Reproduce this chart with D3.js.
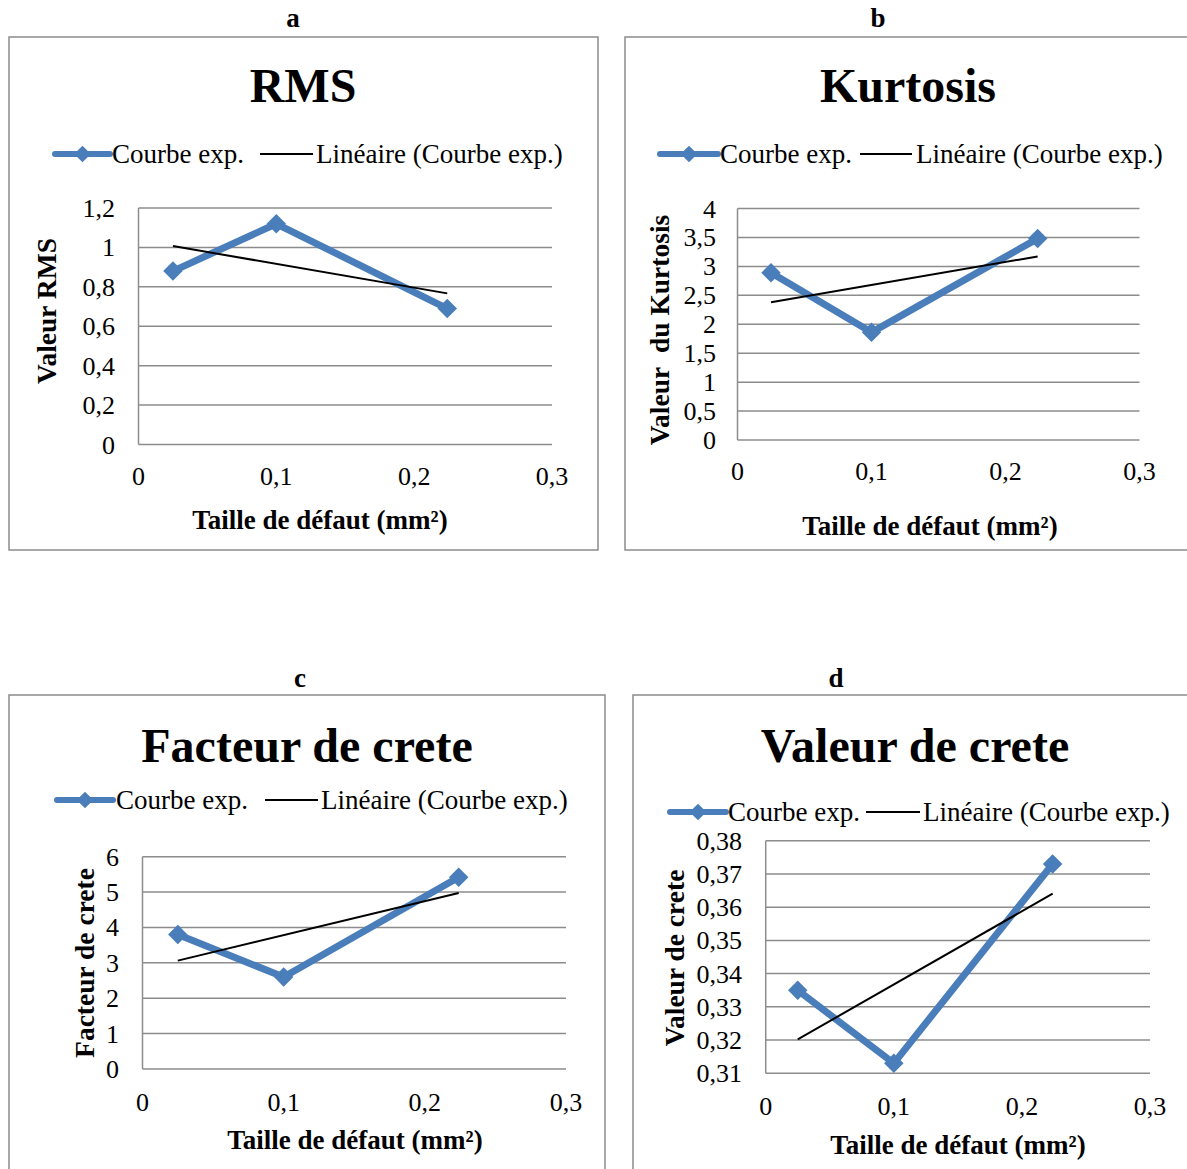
<!DOCTYPE html>
<html><head><meta charset="utf-8">
<script src="https://cdn.jsdelivr.net/npm/d3@7"></script>
<style>
html,body{margin:0;padding:0;background:#fff;}
svg{display:block;font-family:"Liberation Serif","Times New Roman",serif;}
</style></head>
<body>
<svg id="chart" width="1187" height="1169"></svg>
<script>
// ---- data ----
const defectSizes = [0.025, 0.1, 0.224];          // Taille de défaut (mm²)
const rmsValues = [0.88, 1.12, 0.69];
const kurtosisValues = [2.89, 1.86, 3.48];
const facteurCreteValues = [3.8, 2.6, 5.42];
const valeurCreteValues = [0.335, 0.313, 0.373];

const xTicks = [0, 0.1, 0.2, 0.3];
const rmsTicks = [0, 0.2, 0.4, 0.6, 0.8, 1, 1.2];
const kurtosisTicks = [0, 0.5, 1, 1.5, 2, 2.5, 3, 3.5, 4];
const facteurTicks = [0, 1, 2, 3, 4, 5, 6];
const valeurTicks = [0.31, 0.32, 0.33, 0.34, 0.35, 0.36, 0.37, 0.38];

const panelLetters = ["a", "b", "c", "d"];
const panelTitles = ["RMS", "Kurtosis", "Facteur de crete", "Valeur de crete"];
const yTitles = ["Valeur RMS", "Valeur\u00a0 du Kurtosis", "Facteur de crete", "Valeur de crete"];
const xTitle = "Taille de défaut (mm²)";
const legendSeries = "Courbe exp.";
const legendTrend = "Linéaire (Courbe exp.)";

// ---- layout ----
const layouts = [
  {letter:[293,27], box:[9,37,598,550], title:[303,102], leg:{y:154,b0:55,b1:110,t1:112,k0:260,k1:313,t2:316},
   plot:[138.5,552,208,444.5], yLab:115, xLabY:485, xTitle:[320,529], yTitle:[47,311], ydom:[0,1.2], yt:rmsTicks, vals:rmsValues, dec:1},
  {letter:[878,27], box:[625,37,1195,550], title:[908,102], leg:{y:154,b0:660,b1:718,t1:720,k0:860,k1:912,t2:916},
   plot:[737.5,1139.5,208.5,440], yLab:716, xLabY:480, xTitle:[930,535], yTitle:[660,330], ydom:[0,4], yt:kurtosisTicks, vals:kurtosisValues, dec:1},
  {letter:[300,687], box:[9,695,605,1180], title:[307,762], leg:{y:800,b0:57,b1:113,t1:116,k0:265,k1:318,t2:321},
   plot:[142.5,566,856.7,1069], yLab:119, xLabY:1111, xTitle:[355,1149], yTitle:[85,963], ydom:[0,6], yt:facteurTicks, vals:facteurCreteValues, dec:0},
  {letter:[836,687], box:[633,695,1195,1180], title:[915,762], leg:{y:812,b0:670,b1:726,t1:728,k0:866,k1:920,t2:923},
   plot:[765.7,1150,840.7,1073.3], yLab:742, xLabY:1115, xTitle:[958,1154], yTitle:[675,958], ydom:[0.31,0.38], yt:valeurTicks, vals:valeurCreteValues, dec:2}
];

const blue = "#4A7EBB", grid = "#8c8c8c";
const svg = d3.select("#chart");
const fmtX = v => v === 0 ? "0" : d3.format(".1f")(v).replace(".", ",");
const fmtY = (v, dec) => {
  if (v === 0) return "0";
  let s = d3.format("." + dec + "f")(v);
  if (dec === 1 && s.endsWith(".0")) s = s.slice(0, -2);
  return s.replace(".", ",");
};

function linearFit(xs, ys) {
  const mx = d3.mean(xs), my = d3.mean(ys);
  const sxy = d3.sum(xs, (x, i) => (x - mx) * (ys[i] - my));
  const sxx = d3.sum(xs, x => (x - mx) * (x - mx));
  const b = sxy / sxx;
  return x => my + b * (x - mx);
}

layouts.forEach((L, i) => {
  const g = svg.append("g");
  g.append("text").attr("x", L.letter[0]).attr("y", L.letter[1]).attr("text-anchor", "middle")
    .attr("font-size", 27).attr("font-weight", "bold").text(panelLetters[i]);
  g.append("rect").attr("x", L.box[0]).attr("y", L.box[1]).attr("width", L.box[2] - L.box[0]).attr("height", L.box[3] - L.box[1])
    .attr("fill", "#fff").attr("stroke", grid).attr("stroke-width", 1.5);
  g.append("text").attr("x", L.title[0]).attr("y", L.title[1]).attr("text-anchor", "middle")
    .attr("font-size", 48).attr("font-weight", "bold").text(panelTitles[i]);
  // legend
  const lg = L.leg;
  g.append("line").attr("x1", lg.b0).attr("x2", lg.b1).attr("y1", lg.y).attr("y2", lg.y)
    .attr("stroke", blue).attr("stroke-width", 6).attr("stroke-linecap", "round");
  g.append("path").attr("d", d3.symbol(d3.symbolSquare, 140)()).attr("fill", blue)
    .attr("transform", `translate(${(lg.b0 + lg.b1) / 2},${lg.y}) rotate(45)`);
  g.append("text").attr("x", lg.t1).attr("y", lg.y + 9).attr("font-size", 27).text(legendSeries);
  g.append("line").attr("x1", lg.k0).attr("x2", lg.k1).attr("y1", lg.y).attr("y2", lg.y)
    .attr("stroke", "#000").attr("stroke-width", 2);
  g.append("text").attr("x", lg.t2).attr("y", lg.y + 9).attr("font-size", 27).text(legendTrend);

  const [x0, x1, yTop, yBot] = L.plot;
  const x = d3.scaleLinear().domain([0, 0.3]).range([x0, x1]);
  const y = d3.scaleLinear().domain(L.ydom).range([yBot, yTop]);

  g.append("g").selectAll("line").data(L.yt).join("line")
    .attr("x1", x0).attr("x2", x1).attr("y1", d => y(d)).attr("y2", d => y(d))
    .attr("stroke", grid).attr("stroke-width", 1.5);
  g.append("line").attr("x1", x0).attr("x2", x0).attr("y1", yTop).attr("y2", yBot)
    .attr("stroke", grid).attr("stroke-width", 1.5);
  g.append("g").selectAll("text").data(L.yt).join("text")
    .attr("x", L.yLab).attr("y", d => y(d) + 9).attr("text-anchor", "end").attr("font-size", 26)
    .text(d => fmtY(d, L.dec));
  g.append("g").selectAll("text").data(xTicks).join("text")
    .attr("x", d => x(d)).attr("y", L.xLabY).attr("text-anchor", "middle").attr("font-size", 26)
    .text(fmtX);
  g.append("text").attr("x", L.xTitle[0]).attr("y", L.xTitle[1]).attr("text-anchor", "middle")
    .attr("font-size", 27).attr("font-weight", "bold").text(xTitle);
  g.append("text").attr("transform", `translate(${L.yTitle[0] + 9},${L.yTitle[1]}) rotate(-90)`)
    .attr("text-anchor", "middle").attr("font-size", 27.5).attr("font-weight", "bold").text(yTitles[i]);

  const pts = defectSizes.map((d, k) => [d, L.vals[k]]);
  g.append("path").datum(pts)
    .attr("d", d3.line().x(d => x(d[0])).y(d => y(d[1])))
    .attr("fill", "none").attr("stroke", blue).attr("stroke-width", 7).attr("stroke-linejoin", "round");
  g.append("g").selectAll("path").data(pts).join("path")
    .attr("d", d3.symbol(d3.symbolSquare, 190)()).attr("fill", blue)
    .attr("transform", d => `translate(${x(d[0])},${y(d[1])}) rotate(45)`);
  const f = linearFit(defectSizes, L.vals);
  const ends = [defectSizes[0], defectSizes[defectSizes.length - 1]];
  g.append("path").datum(ends)
    .attr("d", d3.line().x(d => x(d)).y(d => y(f(d))))
    .attr("fill", "none").attr("stroke", "#000").attr("stroke-width", 2);
});
</script>
</body></html>
